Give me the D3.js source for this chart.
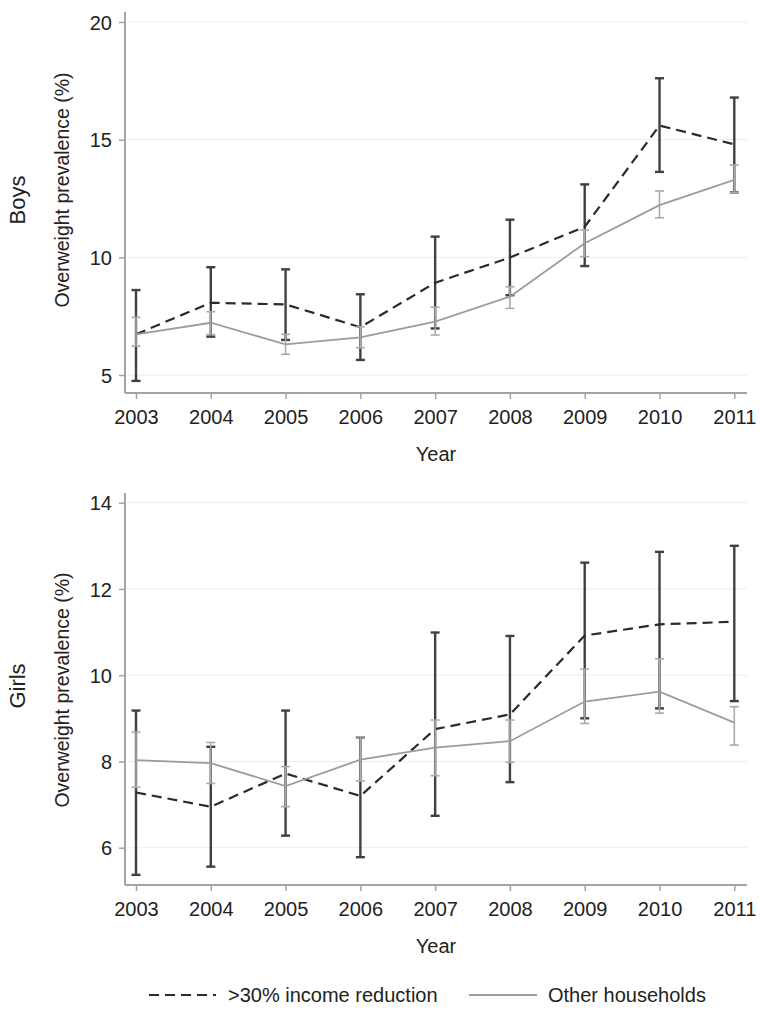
<!DOCTYPE html>
<html>
<head>
<meta charset="utf-8">
<script src="https://cdn.jsdelivr.net/npm/d3@7"></script>
<style>
  html, body { margin: 0; padding: 0; background: #fff; }
  svg { display: block; }
  text { font-family: "Liberation Sans", Arial, Helvetica, sans-serif; fill: #222; }
</style>
</head>
<body>
<svg id="chart" width="760" height="1013"></svg>
<script>
// ---------- data ----------
const years = [2003, 2004, 2005, 2006, 2007, 2008, 2009, 2010, 2011];

const boysReduction   = [6.73, 8.07, 8.00, 7.03, 8.92, 9.99, 11.30, 15.60, 14.80];
const boysReductionLo = [4.75, 6.63, 6.49, 5.64, 6.98, 8.39, 9.63, 13.63, 12.76];
const boysReductionHi = [8.61, 9.58, 9.49, 8.43, 10.88, 11.60, 13.10, 17.61, 16.79];
const boysOther   = [6.73, 7.22, 6.30, 6.60, 7.27, 8.33, 10.60, 12.22, 13.29];
const boysOtherLo = [6.23, 6.72, 5.88, 6.16, 6.70, 7.83, 10.03, 11.68, 12.76];
const boysOtherHi = [7.45, 7.69, 6.73, 7.05, 7.88, 8.75, 11.16, 12.82, 13.92];

const girlsReduction   = [7.28, 6.95, 7.72, 7.20, 8.75, 9.09, 10.92, 11.18, 11.24];
const girlsReductionLo = [5.37, 5.56, 6.28, 5.78, 6.74, 7.52, 9.00, 9.23, 9.40];
const girlsReductionHi = [9.18, 8.34, 9.18, 8.56, 10.99, 10.91, 12.61, 12.86, 13.00];
const girlsOther   = [8.03, 7.96, 7.43, 8.04, 8.32, 8.47, 9.39, 9.62, 8.90];
const girlsOtherLo = [7.40, 7.49, 6.95, 7.55, 7.67, 7.98, 8.88, 9.12, 8.38];
const girlsOtherHi = [8.68, 8.44, 7.88, 8.57, 8.96, 8.96, 10.14, 10.38, 9.27];

const boysTicks  = [5, 10, 15, 20];
const girlsTicks = [6, 8, 10, 12, 14];

const yTitle = "Overweight prevalence (%)";
const xTitle = "Year";
const legendLabels = [">30% income reduction", "Other households"];

// ---------- layout ----------
const svg = d3.select("#chart");
const plotLeft = 125, plotRight = 747;
const x = d3.scaleLinear().domain([2003, 2011]).range([136, 734.3]);

const DARK = "#2b2b2b", DARK_BAR = "#404040";
const LIGHT = "#9c9c9c", LIGHT_BAR = "#aaaaaa";
const AXIS = "#a3a3a3";

function panel(cfg) {
  const g = svg.append("g");
  const y = d3.scaleLinear().domain(cfg.domain).range(cfg.range);

  // gridlines
  g.selectAll("line.grid").data(cfg.ticks).join("line")
    .attr("x1", plotLeft + 2).attr("x2", plotRight)
    .attr("y1", d => y(d)).attr("y2", d => y(d))
    .attr("stroke", "#ececec").attr("stroke-width", 1);

  // y axis
  const ya = g.append("g").attr("transform", `translate(${plotLeft},0)`)
    .call(d3.axisLeft(y).tickValues(cfg.ticks).tickSize(6).tickPadding(7).tickFormat(d3.format("d")));
  ya.select(".domain").remove();
  ya.selectAll(".tick line").attr("stroke", AXIS).attr("stroke-width", 1.5);
  ya.selectAll(".tick text").style("font-size", "20px").attr("fill", "#222").attr("dy", "0.36em");
  g.append("line").attr("x1", plotLeft).attr("x2", plotLeft)
    .attr("y1", cfg.top).attr("y2", cfg.bottom)
    .attr("stroke", AXIS).attr("stroke-width", 2);

  // x axis
  const xa = g.append("g").attr("transform", `translate(0,${cfg.bottom})`)
    .call(d3.axisBottom(x).tickValues(years).tickSize(6).tickPadding(11).tickFormat(d3.format("d")));
  xa.select(".domain").remove();
  xa.selectAll(".tick line").attr("stroke", AXIS).attr("stroke-width", 1.5);
  xa.selectAll(".tick text").style("font-size", "20px").attr("fill", "#222");
  g.append("line").attr("x1", plotLeft).attr("x2", plotRight)
    .attr("y1", cfg.bottom).attr("y2", cfg.bottom)
    .attr("stroke", AXIS).attr("stroke-width", 2);

  // titles
  g.append("text").attr("transform", `translate(${plotLeft + (plotRight - plotLeft) / 2},${cfg.bottom + 68})`)
    .attr("text-anchor", "middle").style("font-size", "20px").text(xTitle);
  g.append("text").attr("transform", `translate(69,${cfg.yTitleMid}) rotate(-90)`)
    .attr("text-anchor", "middle").style("font-size", "19.5px").text(yTitle);
  g.append("text").attr("transform", `translate(25,${cfg.groupMid}) rotate(-90)`)
    .attr("text-anchor", "middle").style("font-size", "22px").text(cfg.group);

  const cap = 4.5;
  function errorBars(lo, hi, color, width) {
    const eb = g.append("g");
    years.forEach((yr, i) => {
      const cx = x(yr);
      eb.append("line").attr("x1", cx).attr("x2", cx).attr("y1", y(lo[i])).attr("y2", y(hi[i]))
        .attr("stroke", color).attr("stroke-width", width);
      [lo[i], hi[i]].forEach(v => {
        eb.append("line").attr("x1", cx - cap).attr("x2", cx + cap).attr("y1", y(v)).attr("y2", y(v))
          .attr("stroke", color).attr("stroke-width", width);
      });
    });
  }
  const line = d3.line().x((d, i) => x(years[i])).y(d => y(d));

  errorBars(cfg.redLo, cfg.redHi, DARK_BAR, 2.4);
  g.append("path").datum(cfg.red).attr("d", line).attr("fill", "none")
    .attr("stroke", DARK).attr("stroke-width", 2.2).attr("stroke-dasharray", "10,6");
  errorBars(cfg.othLo, cfg.othHi, LIGHT_BAR, 1.6);
  g.append("path").datum(cfg.oth).attr("d", line).attr("fill", "none")
    .attr("stroke", LIGHT).attr("stroke-width", 1.8);
}

panel({
  domain: [5, 20], range: [375, 22], ticks: boysTicks, top: 12, bottom: 393,
  yTitleMid: 190, groupMid: 200, group: "Boys",
  red: boysReduction, redLo: boysReductionLo, redHi: boysReductionHi,
  oth: boysOther, othLo: boysOtherLo, othHi: boysOtherHi
});
panel({
  domain: [6, 14], range: [847.7, 502.7], ticks: girlsTicks, top: 493, bottom: 885,
  yTitleMid: 690, groupMid: 686, group: "Girls",
  red: girlsReduction, redLo: girlsReductionLo, redHi: girlsReductionHi,
  oth: girlsOther, othLo: girlsOtherLo, othHi: girlsOtherHi
});

// legend
const leg = svg.append("g");
const legY = 995;
leg.append("line").attr("x1", 149).attr("x2", 216).attr("y1", legY).attr("y2", legY)
  .attr("stroke", DARK).attr("stroke-width", 2.2).attr("stroke-dasharray", "10,6");
leg.append("text").attr("x", 228).attr("y", legY).attr("dy", "0.36em").style("font-size", "20px").text(legendLabels[0]);
leg.append("line").attr("x1", 469).attr("x2", 537).attr("y1", legY).attr("y2", legY)
  .attr("stroke", LIGHT).attr("stroke-width", 1.8);
leg.append("text").attr("x", 548).attr("y", legY).attr("dy", "0.36em").style("font-size", "20px").text(legendLabels[1]);
</script>
</body>
</html>
